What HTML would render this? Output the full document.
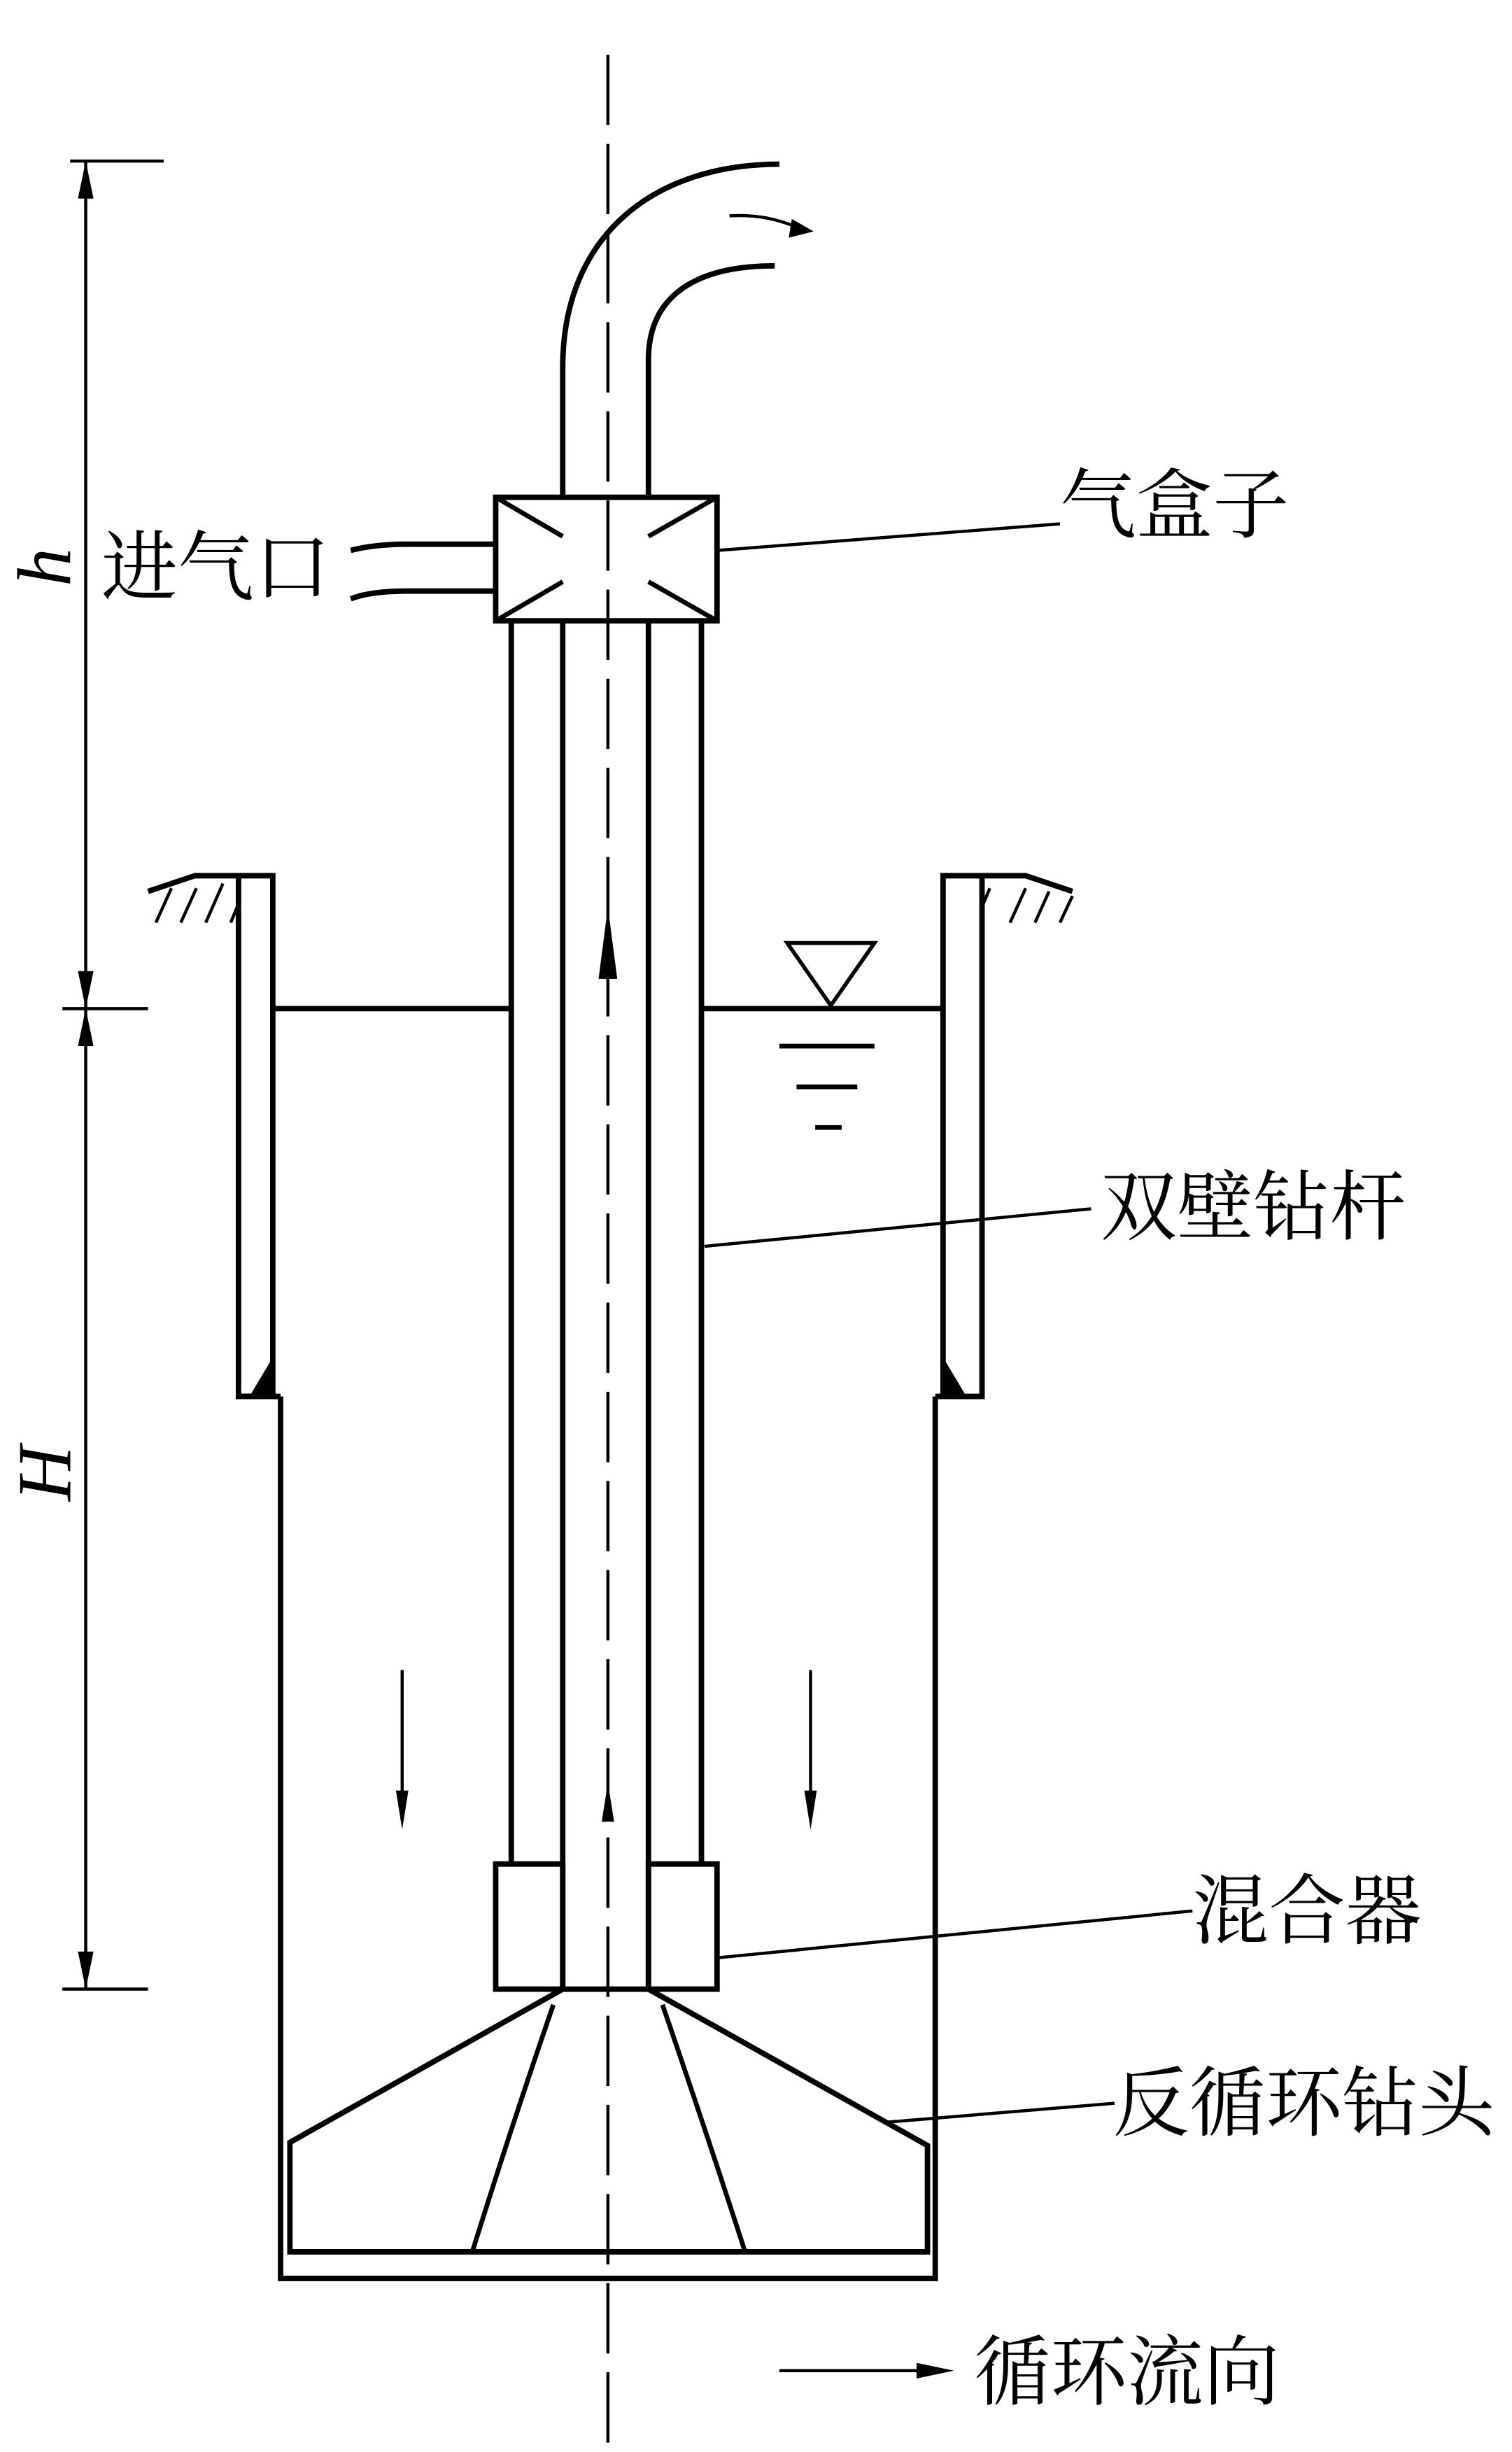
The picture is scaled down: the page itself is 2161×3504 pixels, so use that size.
<!DOCTYPE html>
<html><head><meta charset="utf-8"><style>html,body{margin:0;padding:0;background:#fff}svg{display:block}</style></head>
<body>
<svg width="2161" height="3504" viewBox="0 0 970 1568" preserveAspectRatio="none" xmlns="http://www.w3.org/2000/svg">
<g fill="none" stroke="#000" stroke-width="3.5" stroke-linecap="butt">
<line x1="390" y1="35" x2="390" y2="1568" stroke-width="2" stroke-dasharray="45,12"/>
<path d="M361 318 L361 235 C361 150 420 105 500 105"/>
<path d="M416 318 L416 230 C416 190 445 170 497 170"/>
<path d="M468 138 C485 137 500 140 515 147" stroke-width="2"/>
<rect x="318" y="318" width="142" height="79"/>
<path d="M318 318 L361 343 M318 397 L361 372 M460 318 L416 343 M460 397 L416 372" stroke-width="3"/>
<path d="M318 348 L260 348 C245 348 232 350 225 352"/>
<path d="M318 378 L260 378 C245 378 232 380 225 383"/>
<line x1="328" y1="397" x2="328" y2="1192"/>
<line x1="450" y1="397" x2="450" y2="1192"/>
<line x1="361" y1="397" x2="361" y2="1272"/>
<line x1="416" y1="397" x2="416" y2="1272"/>
<rect x="318" y="1192" width="43" height="80"/>
<rect x="416" y="1192" width="44" height="80"/>
<path d="M361 1272 L416 1272"/>
<path d="M361 1272 L186 1370 L186 1440 L595 1440 L595 1372 L416 1272"/>
<path d="M355 1282 Q328 1360 303 1440 M425 1282 Q452 1360 478 1440" stroke-width="3"/>
<path d="M180 893 L180 1457 L600 1457 L600 893"/>
<path d="M153 560 L175 560 L175 893 L153 893 Z"/>
<path d="M605 560 L630 560 L630 893 L605 893 Z"/>
<path d="M153 893 L180 893 M605 893 L600 893"/>
<path d="M153 560 L125 560 L95 570 M630 560 L658 560 L688 570"/>
<path d="M100 590 L110 568 M116 590 L126 568 M132 590 L143 565 M148 590 L153 578 M630 580 L635 568 M648 590 L658 568 M664 590 L673 570 M680 590 L688 573" stroke-width="2"/>
<path d="M175 645 L328 645 M450 645 L605 645"/>
<path d="M505 603 L561 603 L533 643 Z" stroke-width="2.5"/>
<path d="M500 669 L561 669 M511 695 L550 695 M523 721 L540 721" stroke-width="3"/>
<line x1="55" y1="103" x2="55" y2="1272" stroke-width="2"/>
<path d="M45 103 L105 103 M40 645 L95 645 M40 1272 L95 1272" stroke-width="2"/>
<line x1="258" y1="1068" x2="258" y2="1150" stroke-width="2"/>
<line x1="520" y1="1068" x2="520" y2="1150" stroke-width="2"/>
<line x1="500" y1="1516" x2="590" y2="1516" stroke-width="2"/>
<g stroke-width="2">
<line x1="460" y1="352" x2="680" y2="335"/>
<line x1="452" y1="797" x2="700" y2="773"/>
<line x1="460" y1="1252" x2="765" y2="1222"/>
<line x1="570" y1="1357" x2="715" y2="1345"/>
</g>
</g>
<g fill="#000">
<path d="M160 893 L175 893 L175 868 Z"/>
<path d="M605 868 L605 893 L620 893 Z"/>
<path d="M390 580 L384 626 L396 626 Z"/>
<path d="M390 1140 L386 1165 L394 1165 Z"/>
<path d="M258 1170 L254 1145 L262 1145 Z"/>
<path d="M520 1170 L516 1145 L524 1145 Z"/>
<path d="M55 103 L50 127 L60 127 Z"/>
<path d="M55 645 L50 621 L60 621 Z"/>
<path d="M55 645 L50 669 L60 669 Z"/>
<path d="M55 1272 L50 1248 L60 1248 Z"/>
<path d="M612 1516 L588 1511 L588 1521 Z"/>
<path d="M522 148 L508 140 L506 152 Z"/>
</g>
<g font-family="'Liberation Serif','Noto Serif CJK SC',serif" font-size="49" fill="#000">
<text x="65" y="380">进气口</text>
<text x="680" y="340">气盒子</text>
<text x="706" y="789">双壁钻杆</text>
<text x="765" y="1239">混合器</text>
<text x="714" y="1362">反循环钻头</text>
<text x="625" y="1534">循环流向</text>
<text font-style="italic" transform="translate(45,375) rotate(-90)">h</text>
<text font-style="italic" transform="translate(45,960) rotate(-90)">H</text>
</g>
</svg>
</body></html>
